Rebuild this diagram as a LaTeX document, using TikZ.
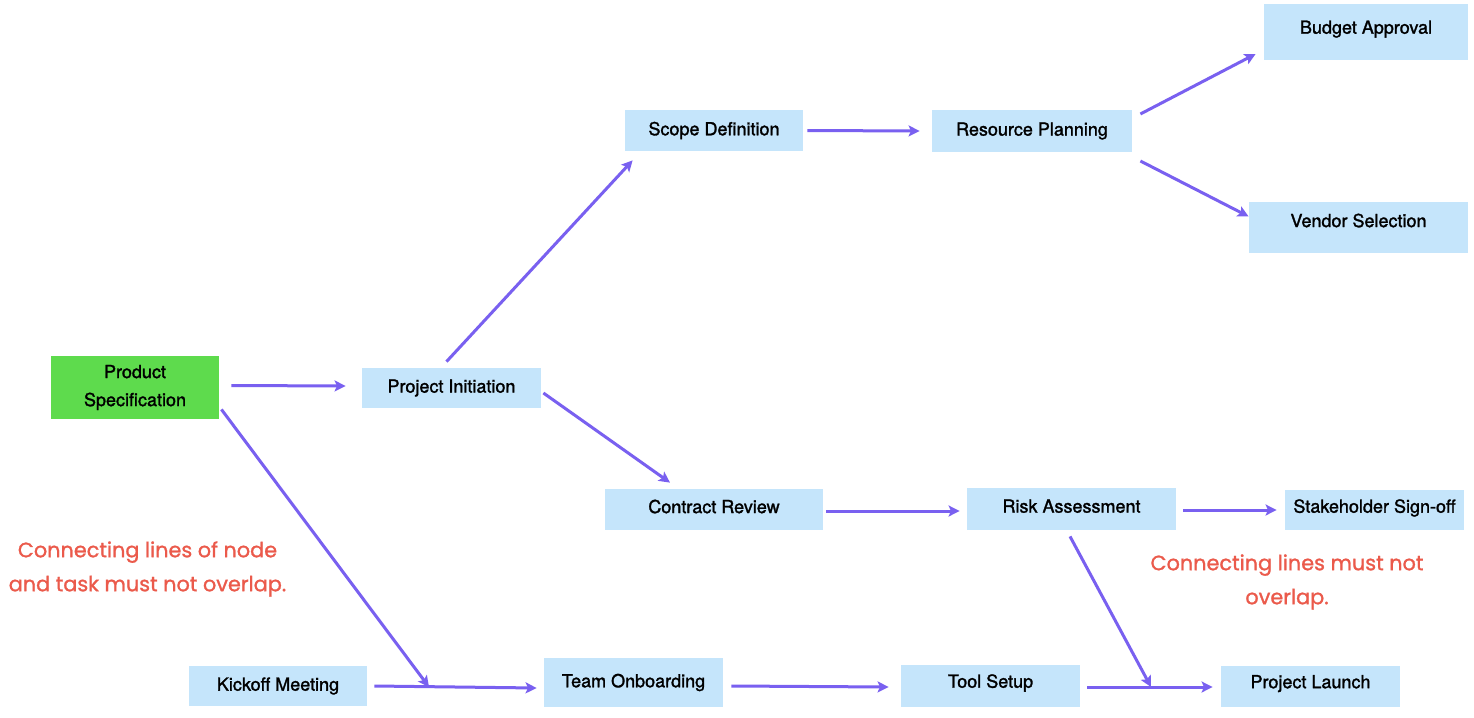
\documentclass[tikz,border=0pt]{standalone}
\usepackage{fontspec}
\usetikzlibrary{arrows.meta,calc}
\newfontfamily\nodefont{TeX Gyre Heros}[FakeBold=1.5]
\newfontfamily\notefont{Poppins}[FakeBold=1.2]
\definecolor{boxblue}{RGB}{197,229,251}
\definecolor{boxgreen}{RGB}{94,219,77}
\definecolor{flow}{RGB}{121,96,240}
\definecolor{note}{RGB}{235,90,75}
\tikzset{
  task/.style={rectangle, fill=boxblue, inner sep=0pt, align=center,
    font=\nodefont\fontsize{9pt}{14pt}\selectfont},
  lift/.style={text height=6.6pt, text depth=#1},
  flowarrow/.style={draw=flow, line width=1.5pt,
    -{Stealth[length=5.5pt, width=5.5pt, inset=1.2pt]}},
  remark/.style={text=note, align=center,
    font=\notefont\fontsize{10.4pt}{17pt}\selectfont}
}
\begin{document}
\begin{tikzpicture}[x=0.5pt, y=-0.5pt]
  \useasboundingbox[fill=white] (0,0) rectangle (1474,718);

  % tasks
  \node[task, fill=boxgreen, minimum width=84pt, minimum height=31.5pt] (ps) at (135,387.5) {Product\\Specification};
  \node[task, minimum width=89.5pt, minimum height=20pt]   (pi) at (451.5,388) {Project Initiation};
  \node[task, minimum width=89pt,   minimum height=20.5pt] (sd) at (714,130.5) {Scope Definition};
  \node[task, minimum width=100pt,  minimum height=21pt]   (rp) at (1032,131) {Resource Planning};
  \node[task, lift=4.9pt, minimum width=102pt,  minimum height=28pt]   (ba) at (1366,32) {Budget Approval};
  \node[task, lift=7pt,   minimum width=109.5pt,minimum height=25.5pt] (vs) at (1358.5,227.5) {Vendor Selection};
  \node[task, lift=3pt,   minimum width=109pt,  minimum height=20.5pt] (cr) at (714,509.5) {Contract Review};
  \node[task, lift=3pt,   minimum width=104.5pt,minimum height=21pt]   (ra) at (1071.5,509) {Risk Assessment};
  \node[task, lift=3.9pt, minimum width=89.5pt, minimum height=20pt]   (ss) at (1374.5,510) {Stakeholder Sign-off};
  \node[task, minimum width=89pt,   minimum height=20pt]   (km) at (278,686) {Kickoff Meeting};
  \node[task, minimum width=89.5pt, minimum height=24.5pt] (to) at (633.5,682.5) {Team Onboarding};
  \node[task, lift=4.9pt, minimum width=89.5pt, minimum height=21pt]   (ts) at (990.5,686) {Tool Setup};
  \node[task, lift=4.9pt, minimum width=89.5pt, minimum height=20.5pt] (pl) at (1310.5,686.5) {Project Launch};

  % points where side branches meet the bottom chain
  \coordinate (j1) at (429,687);
  \coordinate (j2) at (1151,687);

  % connectors
  \draw[flowarrow] ($(ps.east)+(12,-2)$) -- ($(pi.west)+(-16,-2)$);
  \draw[flowarrow] ($(pi.north)+(-5,-6)$) -- ($(sd.south west)+(8,9)$);
  \draw[flowarrow] ($(pi.east)+(2,5)$) -- ($(cr.north)+(-44,-6)$);
  \draw[flowarrow] ($(sd.east)+(4,0)$) -- ($(rp.west)+(-12,0)$);
  \draw[flowarrow] ($(rp.east)+(8,-17)$) -- ($(ba.west)+(-8,22)$);
  \draw[flowarrow] ($(rp.east)+(8,30)$) -- ($(vs.west)+(0,-11)$);
  \draw[flowarrow] ($(cr.east)+(3,1.5)$) -- ($(ra.west)+(-7,2)$);
  \draw[flowarrow] ($(ra.east)+(7,1)$) -- ($(ss.west)+(-8,0)$);
  \draw[flowarrow] ($(ra.south)+(-1.5,6)$) -- (j2);
  \draw[flowarrow] ($(ps.south east)+(2,-10)$) -- (j1);
  \draw[flowarrow] ($(km.east)+(7,0)$) -- ($(to.west)+(-7,5.5)$);
  \draw[flowarrow] ($(to.east)+(8,3.5)$) -- ($(ts.west)+(-12,1)$);
  \draw[flowarrow] ($(ts.east)+(7,1)$) -- ($(pl.west)+(-8,0.5)$);

  % notes
  \node[remark] (n1) at (147.5,569) {Connecting lines of node\\and task must not overlap.};
  \node[remark] (n2) at (1287,582) {Connecting lines must not\\overlap.};
\end{tikzpicture}
\end{document}
